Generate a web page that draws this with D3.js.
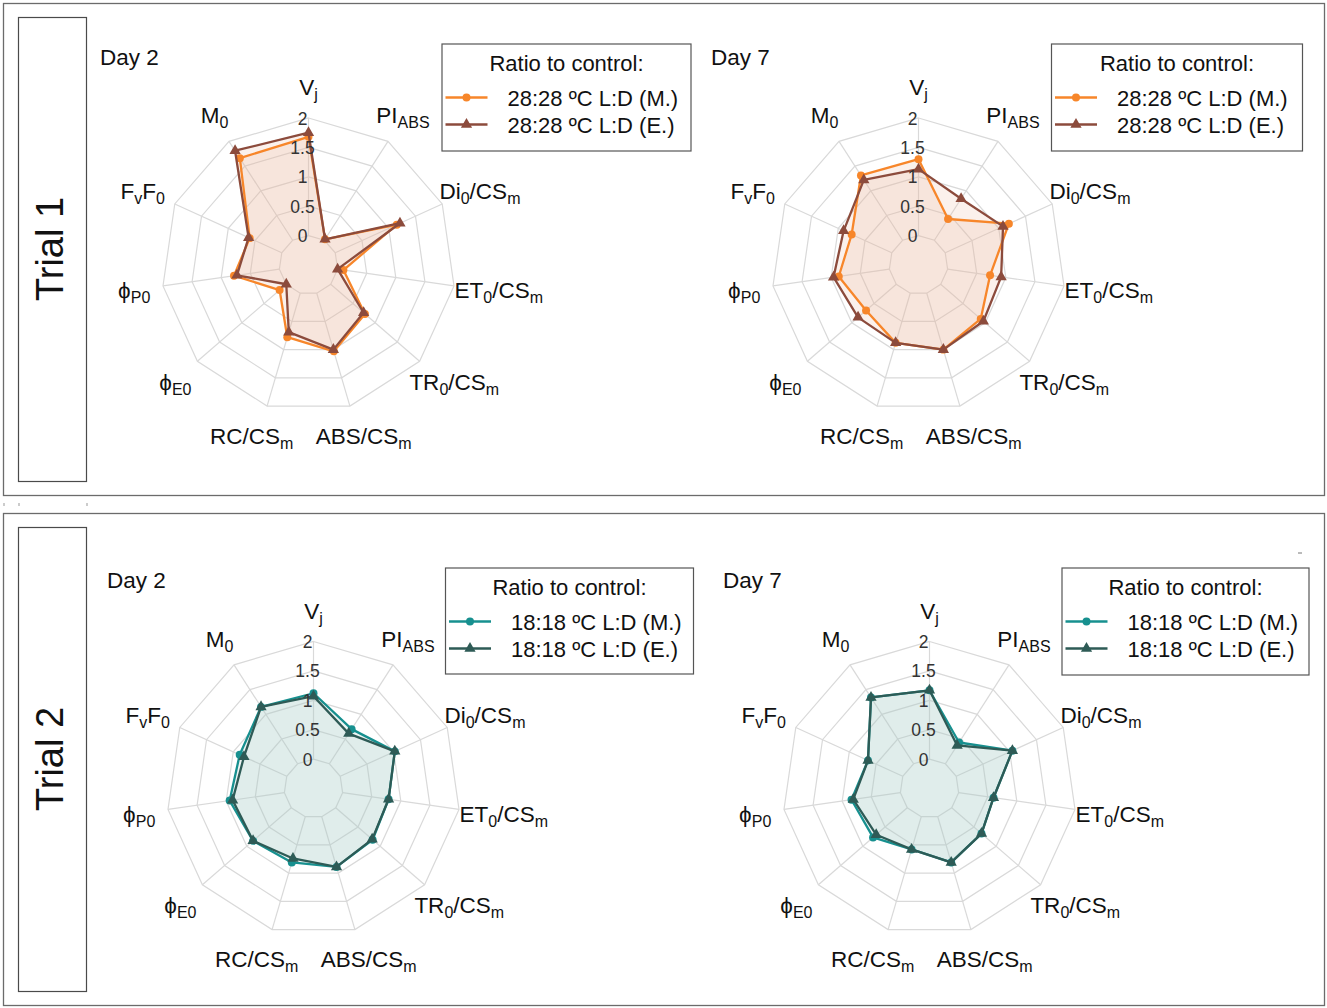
<!DOCTYPE html>
<html>
<head>
<meta charset="utf-8">
<script src="https://cdn.jsdelivr.net/npm/d3@7/dist/d3.min.js"></script>
<style>
  html, body { margin: 0; padding: 0; background: #fff; }
  svg { display: block; font-family: "Liberation Sans", Arial, sans-serif; }
</style>
</head>
<body>
<svg id="fig" width="1327" height="1008"></svg>
<script>
// ---- Parameters (clockwise from the top) ----
// Each label is a list of [text, isSubscript] pieces.
const axisLabels = [
  [["V", 0], ["j", 1]],
  [["PI", 0], ["ABS", 1]],
  [["Di", 0], ["0", 1], ["/CS", 0], ["m", 1]],
  [["ET", 0], ["0", 1], ["/CS", 0], ["m", 1]],
  [["TR", 0], ["0", 1], ["/CS", 0], ["m", 1]],
  [["ABS/CS", 0], ["m", 1]],
  [["RC/CS", 0], ["m", 1]],
  [["\u03D5", 0], ["E0", 1]],
  [["\u03D5", 0], ["P0", 1]],
  [["F", 0], ["v", 1], ["F", 0], ["0", 1]],
  [["M", 0], ["0", 1]]
];

const tickValues = [0, 0.5, 1, 1.5, 2];
const tickLabels = ["0", "0.5", "1", "1.5", "2"];

// ---- Ratios to control ----
// Trial 1, 28:28 ºC
const trial1Day2M = [1.68, 0.02, 1.15, 0.10, 0.77, 1.03, 0.78, 0.15, 0.78, 0.60, 1.66];
const trial1Day2E = [1.75, 0.02, 1.21, 0.00, 0.74, 1.00, 0.69, 0.00, 0.73, 0.62, 1.81];
const trial1Day7M = [1.30, 0.43, 1.19, 0.73, 0.90, 1.00, 0.88, 0.68, 0.87, 0.75, 1.31];
const trial1Day7E = [1.13, 0.84, 1.08, 0.92, 0.96, 1.00, 0.88, 0.86, 0.96, 0.90, 1.22];
// Trial 2, 18:18 ºC
const trial2Day2M = [1.12, 0.70, 1.02, 0.79, 0.83, 0.89, 0.81, 0.86, 0.94, 0.88, 1.15];
const trial2Day2E = [1.07, 0.61, 1.02, 0.79, 0.82, 0.89, 0.74, 0.86, 0.89, 0.80, 1.15];
const trial2Day7M = [1.17, 0.43, 1.05, 0.60, 0.67, 0.81, 0.58, 0.77, 0.84, 0.65, 1.34];
const trial2Day7E = [1.17, 0.37, 1.05, 0.60, 0.67, 0.81, 0.58, 0.70, 0.81, 0.65, 1.34];

const legendTitle = "Ratio to control:";
const trial1Series = ["28:28 \u00BAC L:D (M.)", "28:28 \u00BAC L:D (E.)"];
const trial2Series = ["18:18 \u00BAC L:D (M.)", "18:18 \u00BAC L:D (E.)"];
const trialNames = ["Trial 1", "Trial 2"];
const dayNames = ["Day 2", "Day 7"];

// ---- Styling ----
const styles = {
  t1: { m: "#f7862a", e: "#8c4b3c", fill: "#e9b9a0" },
  t2: { m: "#17908f", e: "#2e5b56", fill: "#a9cbca" }
};
const FONT = 22.5, SUB = 16;

const svg = d3.select("#fig");
const R = 147;
const nAxes = axisLabels.length;
const rScale = d3.scaleLinear().domain([-0.5, 2]).range([0, R]);
const angle = d3.scaleLinear().domain([0, nAxes]).range([0, 2 * Math.PI]);

// Panel frames with the trial name boxes
const panels = [
  { y: 3, h: 492, name: trialNames[0] },
  { y: 513, h: 492, name: trialNames[1] }
];
panels.forEach(p => {
  svg.append("rect").attr("x", 3.5).attr("y", p.y + 0.5).attr("width", 1321).attr("height", p.h)
    .attr("fill", "none").attr("stroke", "#6b6b6b").attr("stroke-width", 1.3);
  svg.append("rect").attr("x", 18.5).attr("y", p.y + 14.5).attr("width", 68).attr("height", p.h - 28)
    .attr("fill", "none").attr("stroke", "#4a4a4a").attr("stroke-width", 1.2);
  svg.append("text")
    .attr("transform", `translate(63,${p.y + 14 + (p.h - 28) / 2}) rotate(-90)`)
    .attr("text-anchor", "middle").attr("font-size", 38).attr("fill", "#111")
    .text(p.name);
});

// small stray marks between panels
[[4, 503], [19, 503], [87, 503]].forEach(([x, y]) => {
  svg.append("line").attr("x1", x).attr("x2", x).attr("y1", y).attr("y2", y + 3)
    .attr("stroke", "#999").attr("stroke-width", 1);
});
svg.append("line").attr("x1", 1298).attr("x2", 1302).attr("y1", 553).attr("y2", 553)
  .attr("stroke", "#777").attr("stroke-width", 1);

function pt(i, v) {
  const a = angle(i);
  const r = rScale(v);
  return [r * Math.sin(a), -r * Math.cos(a)];
}

function addLabel(g, parts, x, y, size, subSize, anchor) {
  const t = g.append("text").attr("x", x).attr("y", y).attr("font-size", size)
    .attr("fill", "#111").attr("text-anchor", anchor || "start");
  let sub = false;
  parts.forEach(([s, isSub]) => {
    const ts = t.append("tspan").text(s);
    if (isSub && !sub) { ts.attr("font-size", subSize).attr("dy", 5); sub = true; }
    else if (!isSub && sub) { ts.attr("dy", -5); sub = false; }
  });
  return t;
}

function radar(cfg) {
  const g = svg.append("g").attr("transform", `translate(${cfg.cx},${cfg.cy})`);
  const st = cfg.style;

  // grid rings
  const ringLine = d3.line().curve(d3.curveLinearClosed);
  tickValues.forEach(v => {
    g.append("path")
      .attr("d", ringLine(d3.range(nAxes).map(i => pt(i, v))))
      .attr("fill", "none").attr("stroke", "#d9d9d9").attr("stroke-width", 1.2);
  });
  // spokes
  d3.range(nAxes).forEach(i => {
    const [x0, y0] = pt(i, tickValues[0]);
    const [x1, y1] = pt(i, tickValues[tickValues.length - 1]);
    g.append("line").attr("x1", x0).attr("y1", y0).attr("x2", x1).attr("y2", y1)
      .attr("stroke", "#d9d9d9").attr("stroke-width", 1.2);
  });

  // series fills
  [cfg.m, cfg.e].forEach(vals => {
    g.append("path")
      .attr("d", ringLine(vals.map((v, i) => pt(i, v))))
      .attr("fill", st.fill).attr("fill-opacity", 0.2).attr("stroke", "none");
  });

  // series lines and markers
  const series = [
    { vals: cfg.m, color: st.m, shape: d3.symbolCircle, size: 50 },
    { vals: cfg.e, color: st.e, shape: d3.symbolTriangle, size: 55 }
  ];
  series.forEach(s => {
    g.append("path")
      .attr("d", ringLine(s.vals.map((v, i) => pt(i, v))))
      .attr("fill", "none").attr("stroke", s.color).attr("stroke-width", 2.3)
      .attr("stroke-linejoin", "round");
    g.selectAll(null).data(s.vals).enter().append("path")
      .attr("transform", (v, i) => { const p = pt(i, v); return `translate(${p[0]},${p[1]})`; })
      .attr("d", d3.symbol().type(s.shape).size(s.size))
      .attr("fill", s.color);
  });

  // tick labels on the first axis
  tickValues.forEach((v, k) => {
    const [, y] = pt(0, v);
    g.append("text").attr("x", -6).attr("y", y + 6.5)
      .attr("text-anchor", "middle").attr("font-size", 17.5).attr("fill", "#333")
      .text(tickLabels[k]);
  });

  // axis labels
  axisLabels.forEach((parts, i) => {
    const a = angle(i);
    const s = Math.sin(a), c = Math.cos(a);
    const t = addLabel(g, parts, 0, 0, FONT, SUB, "middle");
    const w = t.node().getComputedTextLength();
    const base = s < 0 ? 160 : 148;
    const x = base * s + (w / 2) * s;
    const y = -178 * c + 8;
    t.attr("x", x).attr("y", y);
  });

  // panel title
  svg.append("text").attr("x", cfg.dayX).attr("y", cfg.dayY).attr("font-size", FONT)
    .attr("fill", "#111").text(cfg.day);

  // legend
  const L = cfg.legend;
  const lg = svg.append("g").attr("transform", `translate(${L.x},${L.y})`);
  lg.append("rect").attr("x", 0.5).attr("y", 0.5).attr("width", L.w).attr("height", L.h)
    .attr("fill", "#fff").attr("stroke", "#555").attr("stroke-width", 1.2);
  lg.append("text").attr("x", L.w / 2 + 0.5).attr("y", 27.5).attr("text-anchor", "middle")
    .attr("font-size", 22).attr("fill", "#111").text(legendTitle);
  series.forEach((s, k) => {
    const yy = 54 + k * 27;
    lg.append("line").attr("x1", 4).attr("x2", 46).attr("y1", yy).attr("y2", yy)
      .attr("stroke", s.color).attr("stroke-width", 2.3);
    lg.append("path").attr("transform", `translate(25,${yy})`)
      .attr("d", d3.symbol().type(s.shape).size(s.size)).attr("fill", s.color);
    lg.append("text").attr("x", 66).attr("y", yy + 8).attr("font-size", 22)
      .attr("fill", "#111").text(cfg.names[k]);
  });
}

radar({ cx: 308.5, cy: 265, m: trial1Day2M, e: trial1Day2E, style: styles.t1,
  day: dayNames[0], dayX: 100, dayY: 65, names: trial1Series,
  legend: { x: 441.5, y: 43.5, w: 249, h: 107 } });
radar({ cx: 918.5, cy: 265, m: trial1Day7M, e: trial1Day7E, style: styles.t1,
  day: dayNames[1], dayX: 711, dayY: 65, names: trial1Series,
  legend: { x: 1051, y: 43.5, w: 251, h: 107 } });
radar({ cx: 313.5, cy: 788.5, m: trial2Day2M, e: trial2Day2E, style: styles.t2,
  day: dayNames[0], dayX: 107, dayY: 588, names: trial2Series,
  legend: { x: 445, y: 567.5, w: 248, h: 106 } });
radar({ cx: 929.5, cy: 788.5, m: trial2Day7M, e: trial2Day7E, style: styles.t2,
  day: dayNames[1], dayX: 723, dayY: 588, names: trial2Series,
  legend: { x: 1061.5, y: 567.5, w: 247, h: 107 } });
</script>
</body>
</html>
